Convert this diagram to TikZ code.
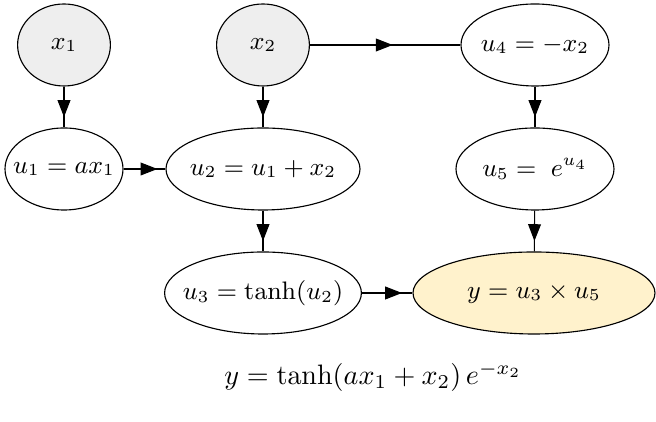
\documentclass[tikz,border=0pt]{standalone}
\usepackage{amsmath}
\usepackage{xcolor}
\usepackage{tikz}
\usetikzlibrary{shapes.geometric,arrows.meta,decorations.markings}

\definecolor{inputgray}{HTML}{EEEEEE}
\definecolor{outyellow}{HTML}{FFF2CC}

\begin{document}
\begin{tikzpicture}[x=0.125mm, y=-0.125mm,
                    var/.style={ellipse, draw, line width=0.4pt, font=\small,
                      inner xsep=-1.5mm, inner ysep=0pt, minimum height=10.25mm},
                    input/.style={var, fill=inputgray, minimum width=11.6mm},
                    output/.style={var, fill=outyellow},
                    flow/.style={draw, line width=0.4pt, postaction={decorate},
                      decoration={markings, mark=at position #1 with {\arrow{Triangle[length=2.1mm,width=1.6mm]}}}},
                    flow/.default=-1.3mm]
  \useasboundingbox (0,0) rectangle (656,422);
  \node[input] (x1) at (64,45) {$x_1$};
  \node[input] (x2) at (263,45) {$x_2$};
  \node[var, minimum width=18.5mm] (u4) at (535,45) {$u_4 = -x_2$};
  \node[var, minimum width=14.75mm] (u1) at (64,169) {$u_1 = a x_1$};
  \node[var, minimum width=24.25mm] (u2) at (263,169) {$u_2 = u_1 + x_2$};
  \node[var, minimum width=19.75mm] (u5) at (535,169) {$u_5 = \;e^{u_4}$};
  \node[var, minimum width=24.6mm] (u3) at (263,293) {$u_3 = \tanh(u_2)$};
  \node[output, minimum width=30.25mm] (y) at (534,293) {$y = u_3 \times u_5$};
  \node (eq) at (373,377) {$y = \tanh(a x_1 + x_2)\, e^{-x_2}$};

  \draw[flow] (x1) -- (u1);
  \draw[flow] (x2) -- (u2);
  \draw[flow=0.55] (x2) -- (u4);
  \draw[flow=-1mm] (u1) -- (u2);
  \draw[flow] (u2) -- (u3);
  \draw[flow] (u4) -- (u5);
  \draw[flow] (u5) -- (y);
  \draw[flow] (u3) -- (y);
\end{tikzpicture}
\end{document}
